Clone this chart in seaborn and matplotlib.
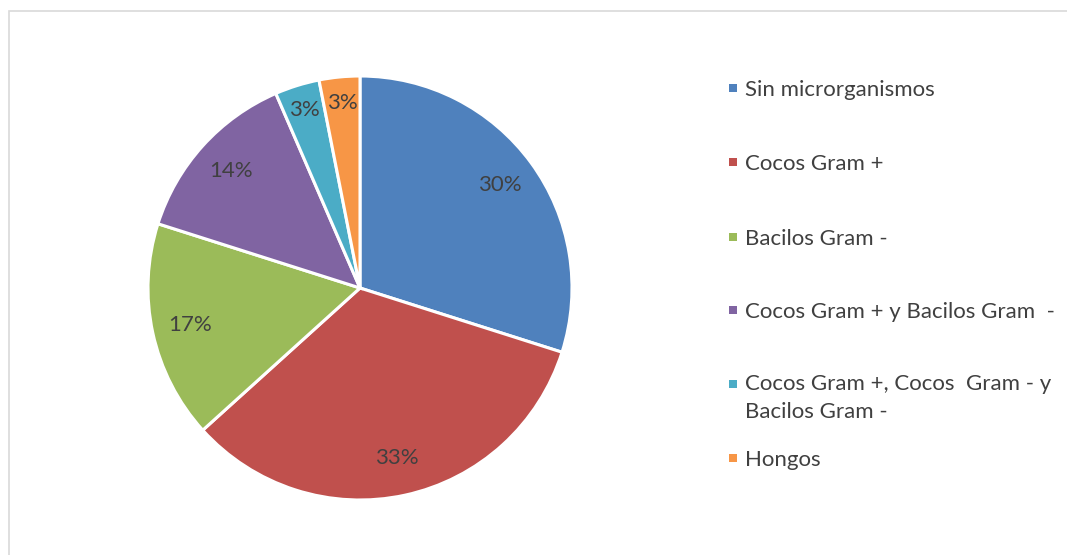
import matplotlib
matplotlib.use("Agg")
import matplotlib.pyplot as plt
import seaborn as sns
from matplotlib.patches import Rectangle

categories = ["Sin microrganismos", "Cocos Gram +", "Bacilos Gram -",
              "Cocos Gram + y Bacilos Gram  -",
              "Cocos Gram +, Cocos  Gram - y\nBacilos Gram -", "Hongos"]
percentages = [29.9, 33.4, 16.6, 13.6, 3.4, 3.1]
colors = ["#4F81BD", "#C0504D", "#9BBB59", "#8064A2", "#4BACC6", "#F79646"]

sns.set_theme(style="white")
plt.rcParams['font.family'] = ['Lato', 'DejaVu Sans']
text_color = "#404040"
fs = 16

W, H = 1067, 555
fig = plt.figure(figsize=(W / 100, H / 100), dpi=100)
fig.patch.set_facecolor("white")

# border (only top and left visible)
fig.patches.append(Rectangle((8.5 / W, -0.1), 1.2, (H - 10.5) / H + 0.1,
                             transform=fig.transFigure, fill=False,
                             edgecolor="#d9d9d9", linewidth=1.2))

cx, cy, r = 360, 288, 212
ax = fig.add_axes([(cx - r) / W, (H - cy - r) / H, 2 * r / W, 2 * r / H])
wedges, texts, autotexts = ax.pie(
    percentages, colors=colors, startangle=90, counterclock=False,
    autopct=lambda p: f"{p:.0f}%", pctdistance=0.82,
    wedgeprops=dict(edgecolor="white", linewidth=2.2),
    textprops=dict(color=text_color, fontsize=fs), radius=1.0)
# small slices: labels sit a bit further out (Excel best fit)
for t, p in zip(autotexts, percentages):
    if p < 5:
        x, y = t.get_position()
        t.set_position((x * 1.07, y * 1.07))
ax.set_xlim(-1, 1)
ax.set_ylim(-1, 1)
ax.set_aspect("equal")
ax.axis("off")

# legend (manual, Excel-like: marker aligned with first line)
leg_y = [88, 162, 237, 310, 384, 458]
for lab, col, y in zip(categories, colors, leg_y):
    fig.patches.append(Rectangle(((729) / W, (H - y - 4) / H), 8 / W, 8 / H,
                                 transform=fig.transFigure, facecolor=col,
                                 edgecolor="none"))
    if "\n" in lab:
        fig.text(745 / W, (H - y + 10) / H, lab, fontsize=fs, color=text_color,
                 ha="left", va="top", linespacing=1.5)
    else:
        fig.text(745 / W, (H - y - 2) / H, lab, fontsize=fs, color=text_color,
                 ha="left", va="center")

fig.savefig("out.png", dpi=100, facecolor="white")
